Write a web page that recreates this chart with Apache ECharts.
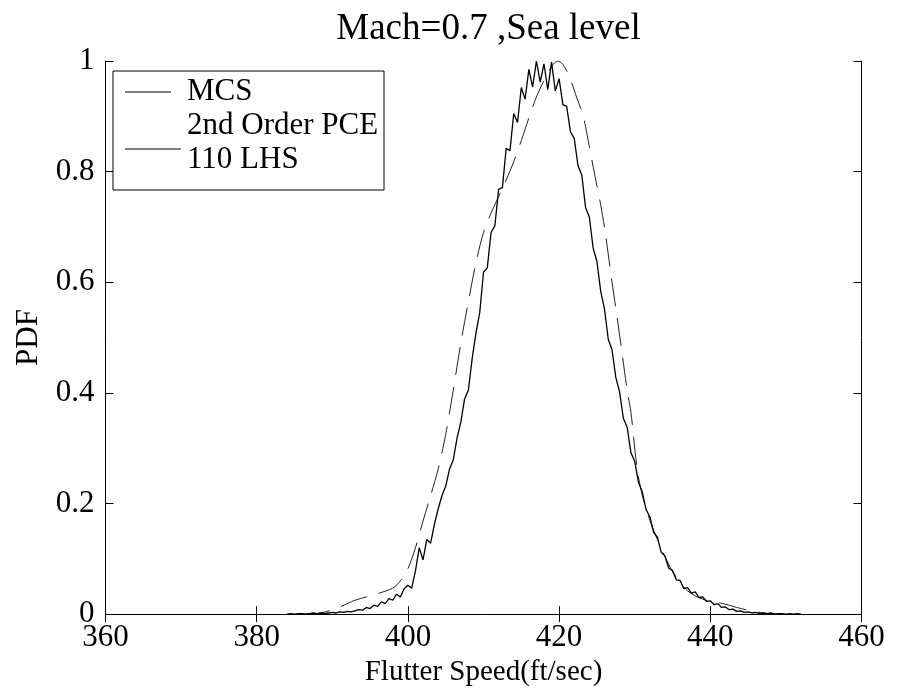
<!DOCTYPE html>
<html><head><meta charset="utf-8">
<script src="https://cdn.jsdelivr.net/npm/echarts@6/dist/echarts.min.js"></script>
<style>html,body{margin:0;padding:0;background:#fff}#c{width:899px;height:692px}</style>
</head><body><div id="c"></div>
<script>
const titleText = 'Mach=0.7 ,Sea level';
const xName = 'Flutter Speed(ft/sec)';
const yName = 'PDF';
const xTicks = [360, 380, 400, 420, 440, 460];
const yTicks = [0, 0.2, 0.4, 0.6, 0.8, 1];
const legendLabels = ['MCS', '2nd Order PCE', '110 LHS'];

const mcsX = [384.0,384.5,385.0,385.5,386.0,386.5,387.0,387.5,388.0,388.5,389.0,389.5,390.0,390.5,391.0,391.5,392.0,392.5,393.0,393.5,394.0,394.5,395.0,395.5,396.0,396.5,397.0,397.5,398.0,398.5,399.0,399.5,400.0,400.5,401.0,401.5,402.0,402.5,403.0,403.5,404.0,404.5,405.0,405.5,406.0,406.5,407.0,407.5,408.0,408.5,409.0,409.5,410.0,410.5,411.0,411.5,412.0,412.5,413.0,413.5,414.0,414.5,415.0,415.5,416.0,416.5,417.0,417.5,418.0,418.5,419.0,419.5,420.0,420.5,421.0,421.5,422.0,422.5,423.0,423.5,424.0,424.5,425.0,425.5,426.0,426.5,427.0,427.5,428.0,428.5,429.0,429.5,430.0,430.5,431.0,431.5,432.0,432.5,433.0,433.5,434.0,434.5,435.0,435.5,436.0,436.5,437.0,437.5,438.0,438.5,439.0,439.5,440.0,440.5,441.0,441.5,442.0,442.5,443.0,443.5,444.0,444.5,445.0,445.5,446.0,446.5,447.0,447.5,448.0,448.5,449.0,449.5,450.0,450.5,451.0,451.5,452.0];
const mcsY = [0.000,0.001,0.000,0.001,0.001,0.000,0.001,0.002,0.001,0.002,0.001,0.002,0.003,0.002,0.004,0.003,0.005,0.004,0.006,0.008,0.007,0.012,0.010,0.016,0.014,0.022,0.019,0.028,0.025,0.036,0.031,0.046,0.052,0.047,0.078,0.120,0.098,0.135,0.128,0.162,0.190,0.214,0.231,0.262,0.279,0.318,0.347,0.389,0.405,0.462,0.508,0.545,0.618,0.626,0.690,0.702,0.768,0.771,0.842,0.838,0.905,0.889,0.952,0.931,0.985,0.953,1.000,0.962,0.995,0.948,0.998,0.946,0.968,0.921,0.918,0.872,0.860,0.811,0.794,0.735,0.718,0.662,0.638,0.584,0.552,0.497,0.478,0.428,0.402,0.354,0.338,0.292,0.276,0.238,0.221,0.189,0.176,0.148,0.139,0.112,0.105,0.083,0.079,0.062,0.061,0.046,0.048,0.038,0.040,0.030,0.031,0.023,0.024,0.017,0.019,0.012,0.013,0.008,0.009,0.005,0.006,0.003,0.004,0.002,0.003,0.001,0.002,0.001,0.002,0.000,0.001,0.001,0.000,0.001,0.000,0.001,0.000];

const pceX = [386.0,388.5,391.0,393.0,395.5,398.0,399.0,400.0,401.0,402.0,403.0,404.0,405.0,406.0,407.0,408.0,409.0,410.0,411.0,412.0,413.0,414.0,415.0,416.0,417.0,418.0,419.0,419.8,420.5,421.4,422.3,423.2,424.0,424.7,425.5,426.1,427.0,427.5,428.3,429.0,429.5,430.3,431.0,432.0,433.0,434.0,435.0,436.0,437.0,438.0,439.0,440.0,441.7,443.5,445.3,447.0,449.0];
const pceY = [0.000,0.002,0.013,0.025,0.035,0.047,0.060,0.082,0.120,0.168,0.214,0.262,0.325,0.405,0.490,0.565,0.635,0.690,0.725,0.755,0.785,0.818,0.856,0.897,0.935,0.965,0.990,1.000,0.994,0.970,0.935,0.900,0.845,0.795,0.740,0.690,0.600,0.553,0.475,0.405,0.365,0.265,0.215,0.170,0.135,0.104,0.077,0.057,0.042,0.033,0.027,0.023,0.019,0.012,0.006,0.002,0.000];

const FONT = "'Liberation Serif','Times New Roman',serif";
const chart = echarts.init(document.getElementById('c'), null, {renderer: 'canvas'});
const G = {left: 105.5, right: 37.5, top: 61, bottom: 74.5};

function axisCommon(ticks, showLabel) {
  return {
    type: 'value', min: ticks[0], max: ticks[ticks.length - 1], interval: ticks[1] - ticks[0],
    axisLine: {show: true, lineStyle: {color: '#000', width: 1}},
    axisTick: {show: true, inside: true, length: 8, lineStyle: {color: '#000', width: 1}},
    axisLabel: {show: showLabel, fontSize: 31, color: '#000', fontFamily: FONT},
    splitLine: {show: false}
  };
}

const option = {
  animation: false,
  backgroundColor: '#fff',
  title: {
    text: titleText, left: 483.5, top: 6, textAlign: 'center',
    textStyle: {fontFamily: FONT, fontSize: 37, fontWeight: 'normal', color: '#000'}
  },
  grid: G,
  xAxis: [
    Object.assign(axisCommon(xTicks, true), {
      position: 'bottom',
      axisLabel: {show: true, fontSize: 31, color: '#000', fontFamily: FONT, margin: 8},
      name: xName, nameLocation: 'middle', nameGap: 38,
      nameTextStyle: {fontFamily: FONT, fontSize: 29, color: '#000'}
    }),
    Object.assign(axisCommon(xTicks, false), {position: 'top'})
  ],
  yAxis: [
    Object.assign(axisCommon(yTicks, true), {
      position: 'left',
      axisLabel: {show: true, fontSize: 31, color: '#000', fontFamily: FONT, margin: 11},
      name: yName, nameLocation: 'middle', nameGap: 52,
      nameTextStyle: {fontFamily: FONT, fontSize: 31, color: '#000'}
    }),
    Object.assign(axisCommon(yTicks, false), {position: 'right'})
  ],
  series: [
    {
      name: 'MCS', type: 'line', xAxisIndex: 0, yAxisIndex: 0, symbol: 'none',
      lineStyle: {color: '#000', width: 1.3}, z: 3,
      data: mcsX.map((x, i) => [x, mcsY[i]])
    },
    {
      name: '2nd Order PCE 110 LHS', type: 'line', xAxisIndex: 0, yAxisIndex: 0, symbol: 'none', smooth: 0.3,
      lineStyle: {color: '#222', width: 1, type: [28, 12]}, z: 2,
      data: pceX.map((x, i) => [x, pceY[i]])
    }
  ],
  graphic: [
    {type: 'rect', shape: {x: 113, y: 71, width: 271, height: 119}, style: {fill: '#fff', stroke: '#000', lineWidth: 1}, z: 10},
    {type: 'line', shape: {x1: 125, y1: 92, x2: 171, y2: 92}, style: {stroke: '#000', lineWidth: 1}, z: 11},
    {type: 'line', shape: {x1: 125, y1: 149, x2: 181, y2: 149}, style: {stroke: '#000', lineWidth: 1}, z: 11},
    {type: 'text', x: 187, y: 92, style: {text: legendLabels[0], font: '31px ' + FONT, fill: '#000', textVerticalAlign: 'middle', verticalAlign: 'middle'}, z: 11},
    {type: 'text', x: 187, y: 126, style: {text: legendLabels[1], font: '31px ' + FONT, fill: '#000', textVerticalAlign: 'middle', verticalAlign: 'middle'}, z: 11},
    {type: 'text', x: 187, y: 160, style: {text: legendLabels[2], font: '31px ' + FONT, fill: '#000', textVerticalAlign: 'middle', verticalAlign: 'middle'}, z: 11}
  ]
};
chart.setOption(option);
</script>
</body></html>
